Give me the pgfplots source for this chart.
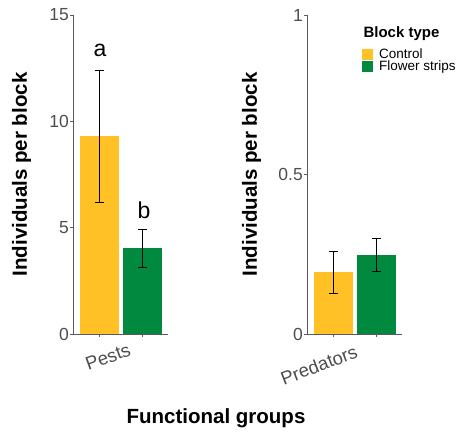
\documentclass[border=0pt]{standalone}
\usepackage{pgfplots}
\pgfplotsset{compat=1.18}
\usepackage{fontspec}
\setmainfont{Liberation Sans}
\definecolor{ctrl}{HTML}{FFC125}
\definecolor{fs}{HTML}{00893F}
\definecolor{tickgray}{HTML}{4D4D4D}
\pgfplotsset{
  panel/.style={
    scale only axis, width=95pt, height=319pt,
    xmin=0, xmax=95, ymin=0,
    axis lines=left, axis line style={-, draw=black!65, line width=0.8pt},
    tick align=outside, major tick length=3pt,
    tick style={black!65, line width=0.8pt},
    xtick={26.5,69.5}, xticklabels={},
    ylabel={Individuals per block},
    ylabel style={at={(rel axis cs:0,0.5)}, anchor=center, font=\fontsize{20.5}{22}\selectfont\bfseries},
    yticklabel style={font=\fontsize{17.5}{17.5}\selectfont, text=tickgray, inner sep=1pt},
    /pgf/number format/assume math mode=true,
    bar width=39.5,
    error bars/error bar style={draw=black, line width=0.6pt},
    error bars/error mark options={draw=black, rotate=90, mark size=4.5pt, line width=0.6pt},
    clip=false,
  }
}
\begin{document}
\begin{tikzpicture}[x=1pt,y=1pt]
\path[use as bounding box] (0,-101) rectangle (458,334);
\begin{axis}[panel, at={(73pt,0pt)}, anchor=south west,
  ymax=15, ytick={0,5,10,15},
  ylabel style={yshift=51.5pt}]
\addplot[ybar, bar shift=0pt, fill=ctrl, draw=none, error bars/.cd, y dir=both, y explicit]
  coordinates {(26.5,9.31) +- (0,3.1)};
\addplot[ybar, bar shift=0pt, fill=fs, draw=none, error bars/.cd, y dir=both, y explicit]
  coordinates {(69.5,4.03) +- (0,0.905)};
\node[font=\fontsize{23}{23}\selectfont] at (axis cs:27,13.35) {a};
\node[font=\fontsize{23}{23}\selectfont] at (axis cs:71,5.83) {b};
\end{axis}
\begin{axis}[panel, at={(307pt,0pt)}, anchor=south west,
  ymax=1, ytick={0,0.5,1}, yticklabels={0,0.5,1},
  ylabel style={yshift=55.5pt},
  legend style={at={(rel axis cs:0.579,0.897)}, anchor=north west, draw=none, fill=none,
    inner sep=0pt, font=\fontsize{13.5}{13.5}\selectfont, row sep=-1.5pt, nodes={inner sep=1pt},
    /tikz/every odd column/.append style={column sep=5pt}},
  legend cell align=left,
  legend image code/.code={\fill[#1] (0pt,-5.5pt) rectangle (11pt,5.5pt);}]
\addplot[ybar, bar shift=0pt, fill=ctrl, draw=none, error bars/.cd, y dir=both, y explicit]
  coordinates {(26.5,0.193) +- (0,0.065)};
\addlegendentry{Control}
\addplot[ybar, bar shift=0pt, fill=fs, draw=none, error bars/.cd, y dir=both, y explicit]
  coordinates {(69.5,0.248) +- (0,0.0525)};
\addlegendentry{Flower strips}
\end{axis}
\node[anchor=west, font=\bfseries\fontsize{15}{15}\selectfont] at (360,300) {Block type};
\node[rotate=20, font=\fontsize{18.5}{18.5}\selectfont, text=tickgray] at (108,-23) {Pests};
\node[rotate=21, font=\fontsize{18.5}{18.5}\selectfont, text=tickgray] at (319,-31) {Predators};
\node[font=\bfseries\fontsize{20.5}{20.5}\selectfont] at (216,-84) {Functional groups};
\end{tikzpicture}
\end{document}
